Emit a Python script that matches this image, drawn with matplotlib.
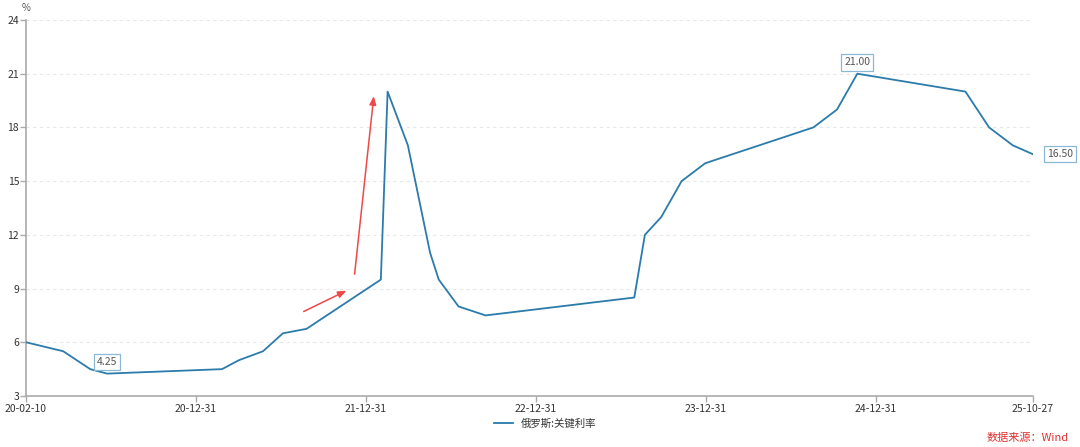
import matplotlib
matplotlib.use("Agg")
import matplotlib.pyplot as plt
import matplotlib.dates as mdates
import pandas as pd

plt.rcParams['font.family'] = ['Noto Sans CJK SC', 'DejaVu Sans']

# 俄罗斯关键利率 (%), 调整日期
dates = ['2020-02-10', '2020-04-27', '2020-06-22', '2020-07-27', '2021-03-22',
         '2021-04-26', '2021-06-15', '2021-07-26', '2021-09-13', '2021-10-25',
         '2021-12-20', '2022-02-14', '2022-02-28', '2022-04-11', '2022-05-04',
         '2022-05-27', '2022-06-14', '2022-07-25', '2022-09-19', '2023-07-24',
         '2023-08-15', '2023-09-18', '2023-10-30', '2023-12-18', '2024-07-29',
         '2024-09-16', '2024-10-28', '2025-06-09', '2025-07-28', '2025-09-15',
         '2025-10-27']
rates = [6.0, 5.5, 4.5, 4.25, 4.5, 5.0, 5.5, 6.5, 6.75, 7.5,
         8.5, 9.5, 20.0, 17.0, 14.0, 11.0, 9.5, 8.0, 7.5, 8.5,
         12.0, 13.0, 15.0, 16.0, 18.0, 19.0, 21.0, 20.0, 18.0, 17.0,
         16.5]
tick_labels = ['20-02-10', '20-12-31', '21-12-31', '22-12-31', '23-12-31', '24-12-31', '25-10-27']
y_ticks = [3, 6, 9, 12, 15, 18, 21, 24]
series_name = '俄罗斯:关键利率'

x = mdates.date2num(pd.to_datetime(dates))
line_color = '#2b7bab'
gray = '#555555'

fig = plt.figure(figsize=(10.8, 4.47), dpi=100)
ax = fig.add_axes([0.0241, 0.1141, 0.9324, 0.8412])

ax.plot(x, rates, color=line_color, lw=1.3, label=series_name, zorder=3)

ax.set_xlim(x[0], x[-1])
ax.set_ylim(3, 24)
ax.set_yticks(y_ticks)
ax.set_yticklabels([str(v) for v in y_ticks])

# labels are spread evenly along the axis, like the source chart
step = 352
tick_pos = [x[0] + i * step for i in range(len(tick_labels) - 1)] + [x[-1]]
ax.set_xticks(tick_pos)
ax.set_xticklabels(tick_labels)

for v in y_ticks[1:]:
    ax.axhline(v, color='#e8e8e8', lw=0.8, ls=(0, (3, 3)), zorder=1)

for side in ['top', 'right']:
    ax.spines[side].set_visible(False)
for side in ['left', 'bottom']:
    ax.spines[side].set_color('#aaaaaa')
    ax.spines[side].set_linewidth(1.2)
ax.tick_params(axis='both', colors='#aaaaaa', labelcolor='#333333', labelsize=7.5,
               length=4, width=1)
ax.tick_params(axis='x', pad=2)
ax.tick_params(axis='y', pad=1)

ax.text(x[0], 24.4, '%', fontsize=7, color=gray, ha='center', va='bottom')

# value labels
def box():
    return dict(boxstyle='square,pad=0.3', fc='white', ec='#8bb8d4', lw=0.9)

i_min = rates.index(min(rates))
i_max = rates.index(max(rates))
ax.annotate(f'{rates[i_min]:.2f}', (x[i_min], rates[i_min]), xytext=(0, 5),
            textcoords='offset points', ha='center', va='bottom', fontsize=7.5,
            color=gray, bbox=box(), zorder=4)
ax.annotate(f'{rates[i_max]:.2f}', (x[i_max], rates[i_max]), xytext=(0, 4.5),
            textcoords='offset points', ha='center', va='bottom', fontsize=7.5,
            color=gray, bbox=box(), zorder=4)
ax.annotate(f'{rates[-1]:.2f}', (x[-1], rates[-1]), xytext=(10, 0),
            textcoords='offset points', ha='left', va='center', fontsize=7.5,
            color=gray, bbox=box(), zorder=4, annotation_clip=False)

# red arrows
x0 = x[0]
arrow = dict(arrowstyle='-|>,head_length=0.5,head_width=0.2', color='#f04848', lw=1.1)
ax.annotate('', xy=(x0 + 669, 8.95), xytext=(x0 + 570, 7.65), arrowprops=arrow)
ax.annotate('', xy=(x0 + 721, 19.9), xytext=(x0 + 680, 9.65), arrowprops=arrow)

fig.legend(loc='lower center', bbox_to_anchor=(0.505, 0.02), frameon=False,
           fontsize=7.5, handlelength=1.8, labelcolor='#333333')

fig.text(0.99, 0.01, '数据来源：Wind', color='#e03030', fontsize=8, ha='right', va='bottom')

fig.savefig('out.png', dpi=100)
